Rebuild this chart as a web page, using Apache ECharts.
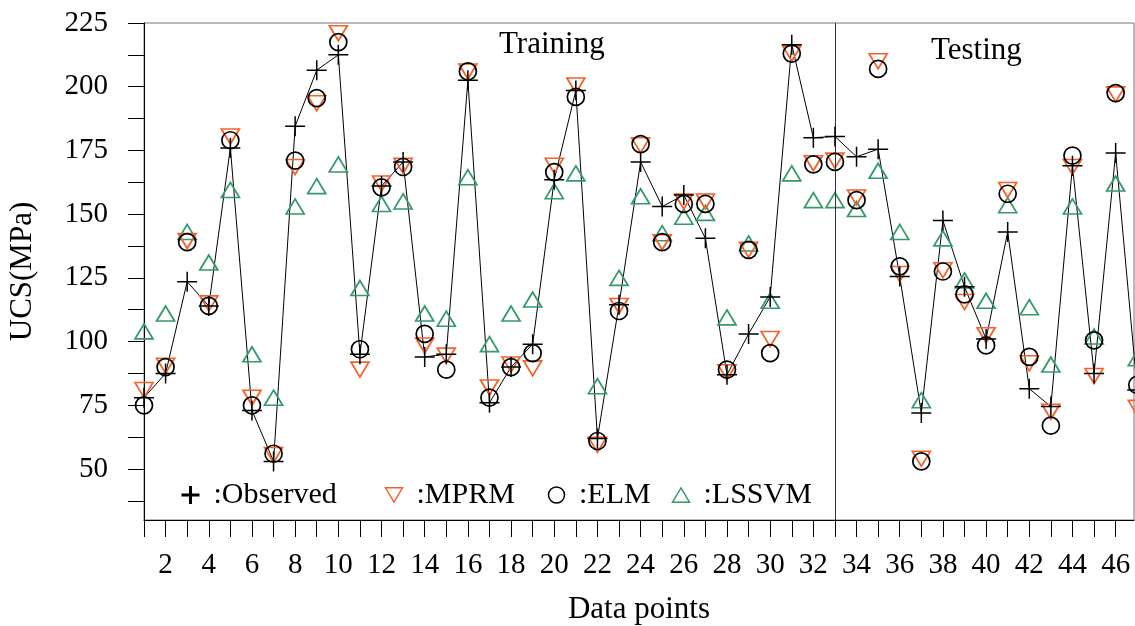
<!DOCTYPE html>
<html>
<head>
<meta charset="utf-8">
<script src="https://cdn.jsdelivr.net/npm/echarts@6/dist/echarts.min.js"></script>
<style>
html,body{margin:0;padding:0;background:#fff;}
#c{width:1135px;height:626px;}
</style>
</head>
<body>
<div id="c"></div>
<script>
// ---- data ----
const dataPoints = [1,2,3,4,5,6,7,8,9,10,11,12,13,14,15,16,17,18,19,20,21,22,23,24,25,26,27,28,29,30,31,32,33,34,35,36,37,38,39,40,41,42,43,44,45,46,47];
const observed = [78,87.5,123.5,114,176,73,53,184.5,206.5,212.5,95,161,170.5,94,95,202.5,76,90,99,163.5,198.5,62,114.5,170.5,153,157.5,140.5,87,103,117.5,216.5,180,180.5,172.5,175.5,125.5,72,147.5,121.5,101,143,81.5,74.5,169,87.5,174,81];
const mprm = [81,90.5,139.5,115,180.5,78,55.5,168.5,193.5,221,89,162,169,98.5,94.5,206,82,91,89.5,169,200.5,59.5,114,177,139,155,155,88,136,101,213,170,171,156.5,210,126.5,54,128,115.5,102.5,159.5,91.5,72.5,168.5,86.5,197,74];
const elm = [75,90,139,114,179,75,56,171,195.5,217.5,97,160.5,168.5,103,89,206,78,90,95.5,166.5,196,61,112,177.5,139,154,154,89,136,95.5,213,169.5,170.5,155.5,207,129.5,53,127.5,118.5,98.5,158,94,67,173,100.5,197.5,83];
const lssvm = [104,111,143,131,159.5,95,78,153,161,169.5,121,154,155,111,109,164.5,99,111,116.5,159,166,82.5,125,157,142.5,149,150.5,109.5,138.5,116,166,155.5,155.5,152,167,143,77,140.5,124,116,153.5,113.5,91,153,102,162,93.5];
const splitPoint = 33;           // boundary between training and testing
const xTickValues = [1,2,3,4,5,6,7,8,9,10,11,12,13,14,15,16,17,18,19,20,21,22,23,24,25,26,27,28,29,30,31,32,33,34,35,36,37,38,39,40,41,42,43,44,45,46];
const xTickLabels = [2,4,6,8,10,12,14,16,18,20,22,24,26,28,30,32,34,36,38,40,42,44,46];
const yTickValues = [37.5,50,62.5,75,87.5,100,112.5,125,137.5,150,162.5,175,187.5,200,212.5,225];
const yTickLabels = [50,75,100,125,150,175,200,225];

// ---- chart ----
const FONT = '"Liberation Serif","Times New Roman",Times,serif';
const ORANGE = '#f4622d';
const GREEN = '#34996b';
const pair = arr => arr.map((v, i) => [dataPoints[i], v]);
const plusPath = 'path://M0,5L10,5M5,0L5,10';
const downTri = 'path://M0,0L10,0L5,8.4Z';
const upTri = 'path://M5,0L10,8.4L0,8.4Z';

const chart = echarts.init(document.getElementById('c'), null, {renderer: 'canvas'});

const legendBase = {
  top: 480, padding: 0, itemWidth: 17, itemHeight: 16, selectedMode: false,
  textStyle: {fontFamily: FONT, fontSize: 30, color: '#000', padding: [0, 0, 0, 9]},
  formatter: name => ':' + name
};

chart.setOption({
  animation: false,
  backgroundColor: '#fff',
  grid: {left: 144, right: 1, top: 23, bottom: 106, show: true, containLabel: false,
         outerBoundsMode: 'none',
         borderColor: '#777', borderWidth: 1, backgroundColor: 'transparent'},
  xAxis: {
    type: 'value', min: 1, max: 46.85,
    name: 'Data points', nameLocation: 'middle', nameGap: 74,
    nameTextStyle: {fontFamily: FONT, fontSize: 31, color: '#000'},
    axisLine: {onZero: false, lineStyle: {color: '#000', width: 1}},
    axisTick: {customValues: xTickValues, length: 17, lineStyle: {color: '#000', width: 1}},
    axisLabel: {customValues: xTickLabels, margin: 31, fontFamily: FONT, fontSize: 29, color: '#000'},
    splitLine: {show: false}
  },
  yAxis: {
    type: 'value', min: 30, max: 225,
    name: 'UCS(MPa)', nameLocation: 'middle', nameGap: 106,
    nameTextStyle: {fontFamily: FONT, fontSize: 31, color: '#000'},
    axisLine: {show: true, onZero: false, lineStyle: {color: '#000', width: 1}},
    axisTick: {customValues: yTickValues, length: 16, lineStyle: {color: '#000', width: 1}},
    axisLabel: {customValues: yTickLabels, margin: 36, fontFamily: FONT, fontSize: 29, color: '#000'},
    splitLine: {show: false}
  },
  legend: [
    Object.assign({}, legendBase, {left: 179, data: ['Observed'], itemWidth: 18, itemHeight: 18, itemStyle: {borderWidth: 3}}),
    Object.assign({}, legendBase, {left: 383, data: ['MPRM'], itemHeight: 15, itemStyle: {borderWidth: 1.5}}),
    Object.assign({}, legendBase, {left: 546, data: ['ELM'], itemHeight: 16, itemStyle: {borderWidth: 1.5}}),
    Object.assign({}, legendBase, {left: 670, data: ['LSSVM'], itemHeight: 15, itemStyle: {borderWidth: 1.5}})
  ],
  graphic: [
    {type: 'text', left: 499, top: 29, silent: true,
     style: {text: 'Training', fontFamily: FONT, fontSize: 31, fill: '#000'}},
    {type: 'text', left: 931, top: 35, silent: true,
     style: {text: 'Testing', fontFamily: FONT, fontSize: 31, fill: '#000'}}
  ],
  series: [
    {
      name: 'ObservedLine', type: 'line', data: pair(observed), showSymbol: false,
      clip: false, silent: true, z: 1,
      lineStyle: {color: '#000', width: 1},
      markLine: {
        silent: true, symbol: ['none', 'none'], label: {show: false},
        lineStyle: {color: '#333', width: 1, type: 'solid'},
        data: [{xAxis: splitPoint}]
      }
    },
    {
      name: 'LSSVM', type: 'scatter', data: pair(lssvm), symbol: upTri, symbolSize: [18, 15],
      clip: false, z: 2,
      itemStyle: {color: 'none', borderColor: GREEN, borderWidth: 1.7, opacity: 1}
    },
    {
      name: 'MPRM', type: 'scatter', data: pair(mprm), symbol: downTri, symbolSize: [18, 15],
      clip: false, z: 3,
      itemStyle: {color: 'none', borderColor: ORANGE, borderWidth: 1.7, opacity: 1}
    },
    {
      name: 'ELM', type: 'scatter', data: pair(elm), symbol: 'circle', symbolSize: 17,
      clip: false, z: 4,
      itemStyle: {color: 'none', borderColor: '#000', borderWidth: 1.7, opacity: 1}
    },
    {
      name: 'Observed', type: 'scatter', data: pair(observed), symbol: plusPath, symbolSize: 20,
      clip: false, z: 5,
      itemStyle: {color: 'none', borderColor: '#000', borderWidth: 1.5, opacity: 1}
    }
  ]
});
</script>
</body>
</html>
